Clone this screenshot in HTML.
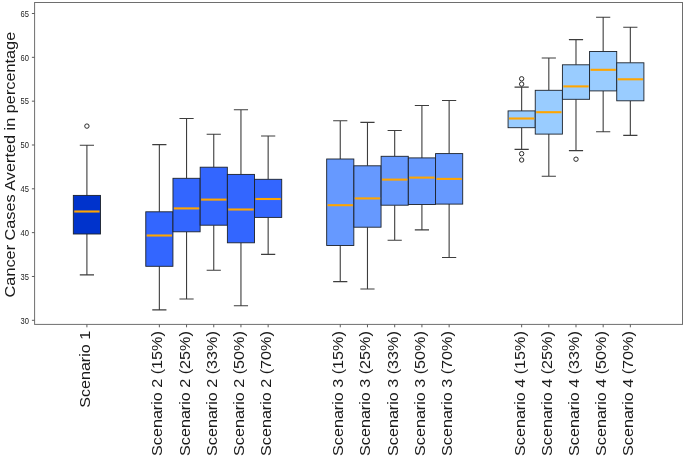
<!DOCTYPE html>
<html lang="en"><head><meta charset="utf-8"><title>Cancer Cases Averted boxplot</title>
<style>
html,body{margin:0;padding:0;background:#fff;}
body{width:685px;height:457px;overflow:hidden;font-family:"Liberation Sans",sans-serif;}
svg{display:block;}
text{font-family:"Liberation Sans",sans-serif;fill:#1a1a1a;}
</style></head><body>
<svg width="685" height="457" viewBox="0 0 685 457">
<rect x="0" y="0" width="685" height="457" fill="#ffffff"/>
<g stroke="#3d3d3d" stroke-width="1.1" fill="none">
<path d="M86.90 145.20V195.40M86.90 234.00V274.90M79.80 145.20H94.00M79.80 274.90H94.00"/>
<path d="M159.35 144.60V211.80M159.35 266.30V309.90M152.25 144.60H166.45M152.25 309.90H166.45"/>
<path d="M186.55 118.50V178.30M186.55 231.80V299.00M179.45 118.50H193.65M179.45 299.00H193.65"/>
<path d="M213.75 134.20V167.20M213.75 225.20V270.30M206.65 134.20H220.85M206.65 270.30H220.85"/>
<path d="M240.95 109.70V174.40M240.95 242.80V305.80M233.85 109.70H248.05M233.85 305.80H248.05"/>
<path d="M268.15 136.00V179.30M268.15 217.40V254.40M261.05 136.00H275.25M261.05 254.40H275.25"/>
<path d="M340.25 120.70V159.00M340.25 245.50V281.60M333.15 120.70H347.35M333.15 281.60H347.35"/>
<path d="M367.47 122.40V165.80M367.47 227.20V289.00M360.37 122.40H374.57M360.37 289.00H374.57"/>
<path d="M394.69 130.50V156.30M394.69 205.20V240.20M387.59 130.50H401.79M387.59 240.20H401.79"/>
<path d="M421.91 105.50V157.90M421.91 204.50V229.90M414.81 105.50H429.01M414.81 229.90H429.01"/>
<path d="M449.13 100.50V153.60M449.13 204.10V257.50M442.03 100.50H456.23M442.03 257.50H456.23"/>
<path d="M521.65 87.10V110.90M521.65 127.70V149.40M514.55 87.10H528.75M514.55 149.40H528.75"/>
<path d="M548.82 58.00V90.30M548.82 134.10V176.20M541.72 58.00H555.92M541.72 176.20H555.92"/>
<path d="M575.99 39.60V64.80M575.99 99.30V150.60M568.89 39.60H583.09M568.89 150.60H583.09"/>
<path d="M603.16 17.20V51.50M603.16 90.90V131.70M596.06 17.20H610.26M596.06 131.70H610.26"/>
<path d="M630.33 27.20V62.80M630.33 100.80V135.40M623.23 27.20H637.43M623.23 135.40H637.43"/>
</g>
<rect x="73.33" y="195.40" width="27.15" height="38.60" fill="#0033cc" stroke="#1c222b" stroke-width="0.9"/>
<rect x="145.78" y="211.80" width="27.15" height="54.50" fill="#3366ff" stroke="#1c222b" stroke-width="0.9"/>
<rect x="172.97" y="178.30" width="27.15" height="53.50" fill="#3366ff" stroke="#1c222b" stroke-width="0.9"/>
<rect x="200.18" y="167.20" width="27.15" height="58.00" fill="#3366ff" stroke="#1c222b" stroke-width="0.9"/>
<rect x="227.38" y="174.40" width="27.15" height="68.40" fill="#3366ff" stroke="#1c222b" stroke-width="0.9"/>
<rect x="254.57" y="179.30" width="27.15" height="38.10" fill="#3366ff" stroke="#1c222b" stroke-width="0.9"/>
<rect x="326.68" y="159.00" width="27.15" height="86.50" fill="#6699ff" stroke="#1c222b" stroke-width="0.9"/>
<rect x="353.90" y="165.80" width="27.15" height="61.40" fill="#6699ff" stroke="#1c222b" stroke-width="0.9"/>
<rect x="381.12" y="156.30" width="27.15" height="48.90" fill="#6699ff" stroke="#1c222b" stroke-width="0.9"/>
<rect x="408.33" y="157.90" width="27.15" height="46.60" fill="#6699ff" stroke="#1c222b" stroke-width="0.9"/>
<rect x="435.56" y="153.60" width="27.15" height="50.50" fill="#6699ff" stroke="#1c222b" stroke-width="0.9"/>
<rect x="508.07" y="110.90" width="27.15" height="16.80" fill="#99ccff" stroke="#1c222b" stroke-width="0.9"/>
<rect x="535.24" y="90.30" width="27.15" height="43.80" fill="#99ccff" stroke="#1c222b" stroke-width="0.9"/>
<rect x="562.41" y="64.80" width="27.15" height="34.50" fill="#99ccff" stroke="#1c222b" stroke-width="0.9"/>
<rect x="589.58" y="51.50" width="27.15" height="39.40" fill="#99ccff" stroke="#1c222b" stroke-width="0.9"/>
<rect x="616.75" y="62.80" width="27.15" height="38.00" fill="#99ccff" stroke="#1c222b" stroke-width="0.9"/>
<g stroke="#ffa500" stroke-width="2.1">
<path d="M74.23 211.50H99.58"/>
<path d="M146.68 235.50H172.02"/>
<path d="M173.88 208.40H199.22"/>
<path d="M201.08 199.60H226.42"/>
<path d="M228.28 209.50H253.62"/>
<path d="M255.47 199.00H280.82"/>
<path d="M327.57 205.20H352.93"/>
<path d="M354.80 198.40H380.15"/>
<path d="M382.01 179.60H407.37"/>
<path d="M409.23 177.60H434.58"/>
<path d="M436.45 178.90H461.81"/>
<path d="M508.97 118.50H534.33"/>
<path d="M536.14 112.20H561.50"/>
<path d="M563.31 86.40H588.67"/>
<path d="M590.48 69.80H615.84"/>
<path d="M617.65 79.30H643.00"/>
</g>
<g stroke="#2a2a2a" stroke-width="1" fill="#ffffff">
<circle cx="86.90" cy="126.10" r="2.2"/>
<circle cx="521.65" cy="78.80" r="2.2"/>
<circle cx="521.65" cy="84.10" r="2.2"/>
<circle cx="521.65" cy="153.70" r="2.2"/>
<circle cx="521.65" cy="160.00" r="2.2"/>
<circle cx="575.99" cy="159.20" r="2.2"/>
</g>
<rect x="34.60" y="2.50" width="647.90" height="321.90" fill="none" stroke="#6e6e6e" stroke-width="1"/>
<g stroke="#5c5c5c" stroke-width="1">
<path d="M31.90 320.30H34.60"/>
<path d="M31.90 276.47H34.60"/>
<path d="M31.90 232.64H34.60"/>
<path d="M31.90 188.81H34.60"/>
<path d="M31.90 144.99H34.60"/>
<path d="M31.90 101.16H34.60"/>
<path d="M31.90 57.33H34.60"/>
<path d="M31.90 13.50H34.60"/>
<path d="M86.90 324.40V327.30"/>
<path d="M159.35 324.40V327.30"/>
<path d="M186.55 324.40V327.30"/>
<path d="M213.75 324.40V327.30"/>
<path d="M240.95 324.40V327.30"/>
<path d="M268.15 324.40V327.30"/>
<path d="M340.25 324.40V327.30"/>
<path d="M367.47 324.40V327.30"/>
<path d="M394.69 324.40V327.30"/>
<path d="M421.91 324.40V327.30"/>
<path d="M449.13 324.40V327.30"/>
<path d="M521.65 324.40V327.30"/>
<path d="M548.82 324.40V327.30"/>
<path d="M575.99 324.40V327.30"/>
<path d="M603.16 324.40V327.30"/>
<path d="M630.33 324.40V327.30"/>
</g>
<g font-size="8.2px" text-anchor="end" style="filter:grayscale(1)">
<text x="28.9" y="323.50" textLength="8.4" lengthAdjust="spacingAndGlyphs">30</text>
<text x="28.9" y="279.67" textLength="8.4" lengthAdjust="spacingAndGlyphs">35</text>
<text x="28.9" y="235.84" textLength="8.4" lengthAdjust="spacingAndGlyphs">40</text>
<text x="28.9" y="192.01" textLength="8.4" lengthAdjust="spacingAndGlyphs">45</text>
<text x="28.9" y="148.19" textLength="8.4" lengthAdjust="spacingAndGlyphs">50</text>
<text x="28.9" y="104.36" textLength="8.4" lengthAdjust="spacingAndGlyphs">55</text>
<text x="28.9" y="60.53" textLength="8.4" lengthAdjust="spacingAndGlyphs">60</text>
<text x="28.9" y="16.70" textLength="8.4" lengthAdjust="spacingAndGlyphs">65</text>
</g>
<g font-size="15.4px" style="filter:grayscale(1)">
<text transform="translate(89.90 407.70) rotate(-90)" x="0" y="0" textLength="76.8" lengthAdjust="spacingAndGlyphs">Scenario 1</text>
<text transform="translate(162.35 455.90) rotate(-90)" x="0" y="0" textLength="124.7" lengthAdjust="spacingAndGlyphs">Scenario 2 (15%)</text>
<text transform="translate(189.55 455.90) rotate(-90)" x="0" y="0" textLength="124.7" lengthAdjust="spacingAndGlyphs">Scenario 2 (25%)</text>
<text transform="translate(216.75 455.90) rotate(-90)" x="0" y="0" textLength="124.7" lengthAdjust="spacingAndGlyphs">Scenario 2 (33%)</text>
<text transform="translate(243.95 455.90) rotate(-90)" x="0" y="0" textLength="124.7" lengthAdjust="spacingAndGlyphs">Scenario 2 (50%)</text>
<text transform="translate(271.15 455.90) rotate(-90)" x="0" y="0" textLength="124.7" lengthAdjust="spacingAndGlyphs">Scenario 2 (70%)</text>
<text transform="translate(343.25 455.90) rotate(-90)" x="0" y="0" textLength="124.7" lengthAdjust="spacingAndGlyphs">Scenario 3 (15%)</text>
<text transform="translate(370.47 455.90) rotate(-90)" x="0" y="0" textLength="124.7" lengthAdjust="spacingAndGlyphs">Scenario 3 (25%)</text>
<text transform="translate(397.69 455.90) rotate(-90)" x="0" y="0" textLength="124.7" lengthAdjust="spacingAndGlyphs">Scenario 3 (33%)</text>
<text transform="translate(424.91 455.90) rotate(-90)" x="0" y="0" textLength="124.7" lengthAdjust="spacingAndGlyphs">Scenario 3 (50%)</text>
<text transform="translate(452.13 455.90) rotate(-90)" x="0" y="0" textLength="124.7" lengthAdjust="spacingAndGlyphs">Scenario 3 (70%)</text>
<text transform="translate(524.65 455.90) rotate(-90)" x="0" y="0" textLength="124.7" lengthAdjust="spacingAndGlyphs">Scenario 4 (15%)</text>
<text transform="translate(551.82 455.90) rotate(-90)" x="0" y="0" textLength="124.7" lengthAdjust="spacingAndGlyphs">Scenario 4 (25%)</text>
<text transform="translate(578.99 455.90) rotate(-90)" x="0" y="0" textLength="124.7" lengthAdjust="spacingAndGlyphs">Scenario 4 (33%)</text>
<text transform="translate(606.16 455.90) rotate(-90)" x="0" y="0" textLength="124.7" lengthAdjust="spacingAndGlyphs">Scenario 4 (50%)</text>
<text transform="translate(633.33 455.90) rotate(-90)" x="0" y="0" textLength="124.7" lengthAdjust="spacingAndGlyphs">Scenario 4 (70%)</text>
</g>
<text font-size="15.4px" style="filter:grayscale(1)" transform="translate(14.70 297.40) rotate(-90)" textLength="265.6" lengthAdjust="spacingAndGlyphs">Cancer Cases Averted in percentage</text>
</svg>
</body></html>
